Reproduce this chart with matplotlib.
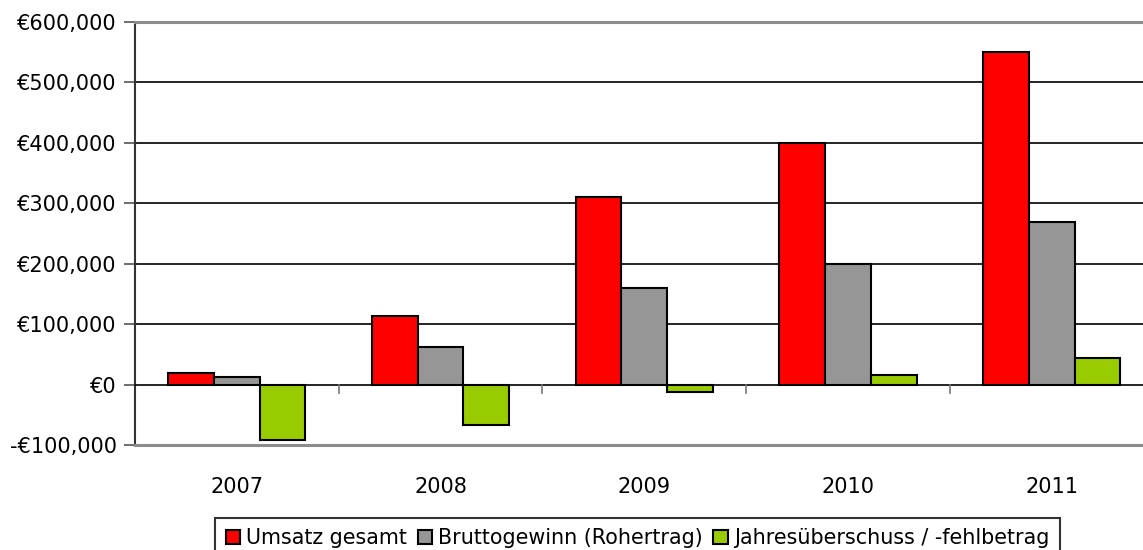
import numpy as np
import matplotlib as mpl
mpl.use("Agg")
import matplotlib.pyplot as plt
from matplotlib.ticker import FuncFormatter, FixedLocator

years = ["2007", "2008", "2009", "2010", "2011"]
umsatz = [19000, 114000, 310000, 400000, 550000]
brutto = [12500, 63000, 160000, 200000, 269000]
jahres = [-91500, -66500, -12500, 15500, 44000]
labels = ["Umsatz gesamt", "Bruttogewinn (Rohertrag)", "Jahresüberschuss / -fehlbetrag"]
farben = ["#FF0000", "#969696", "#99CC00"]

plt.rcParams['font.family'] = ['DejaVu Sans']
plt.rcParams['font.size'] = 15

fig = plt.figure(figsize=(11.43, 5.5), dpi=100)
ax = fig.add_axes([135/1143, 104.7/550, 1018.5/1143, 423.3/550])

x = np.arange(len(years))
w = 0.2244
for i, (vals, lab, col) in enumerate(zip([umsatz, brutto, jahres], labels, farben)):
    ax.bar(x + (i - 1)*w, vals, w, color=col, edgecolor='black', linewidth=1.5,
           label=lab, zorder=3)

ax.set_xlim(-0.5, 4.5)
ax.set_ylim(-100000, 600000)
ax.set_yticks(np.arange(-100000, 600001, 100000))

def euro(v, pos):
    if v < 0:
        return "-€{:,.0f}".format(-v)
    return "€{:,.0f}".format(v)
ax.yaxis.set_major_formatter(FuncFormatter(euro))

# gridlines
for yy in range(100000, 600000, 100000):
    ax.axhline(yy, color='black', linewidth=1.2, zorder=1)
ax.axhline(0, color='black', linewidth=1.2, zorder=4)

ax.set_xticks(x)
ax.set_xticklabels(years)
ax.tick_params(axis='x', which='major', length=0, pad=23)
ax.xaxis.set_minor_locator(FixedLocator([0.5, 1.5, 2.5, 3.5]))
ax.tick_params(axis='x', which='minor', length=0)
for xm in [0.5, 1.5, 2.5, 3.5]:
    ax.plot([xm, xm], [0, -13000], color='#777777', linewidth=1.2, zorder=4,
            clip_on=False)
ax.tick_params(axis='y', length=8, width=1.2, color='#555555', pad=5)

ax.spines['top'].set_color('#8c8c8c')
ax.spines['top'].set_linewidth(2.2)
ax.spines['bottom'].set_color('#8c8c8c')
ax.spines['bottom'].set_linewidth(2.2)
ax.spines['left'].set_color('#333333')
ax.spines['left'].set_linewidth(1.5)
ax.spines['right'].set_visible(False)

leg = fig.legend(loc='upper center', bbox_to_anchor=(637.5/1143, 1 - 518/550),
                 ncol=3, frameon=True, fancybox=False, handlelength=0.7,
                 handleheight=0.7, handletextpad=0.3, columnspacing=0.5,
                 borderpad=0.5, borderaxespad=0, fontsize=14.9)
leg.get_frame().set_edgecolor('black')
leg.get_frame().set_linewidth(1.5)

fig.savefig("out.png", dpi=100)
